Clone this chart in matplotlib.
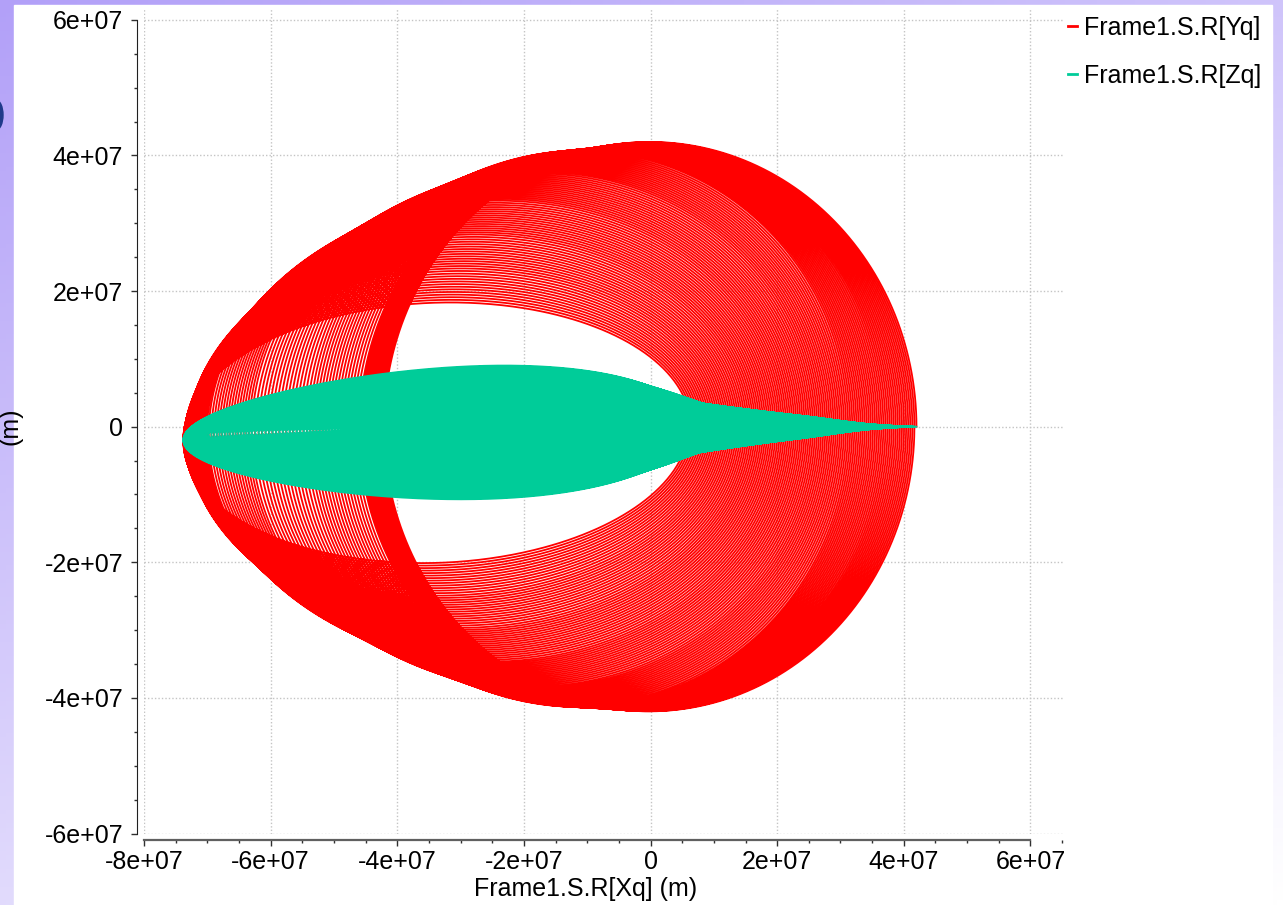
import numpy as np
import matplotlib
matplotlib.use('Agg')
import matplotlib.pyplot as plt
from matplotlib.ticker import MultipleLocator, FuncFormatter
from matplotlib.patches import Rectangle, Ellipse
from matplotlib.lines import Line2D

plt.rcParams['font.family'] = ['Liberation Sans', 'DejaVu Sans']

# loop shape keyframes (metres)
key_frac = [0.0, 0.15, 0.30, 0.45, 0.60, 0.75, 0.88, 1.0]
key_right = [4.20e7, 3.66e7, 3.12e7, 2.58e7, 2.04e7, 1.50e7, 1.03e7, 0.60e7]
key_left = [-4.20e7, -4.60e7, -5.40e7, -6.30e7, -7.00e7, -7.30e7, -7.36e7, -7.38e7]
key_half_y = [4.20e7, 4.15e7, 4.10e7, 3.80e7, 3.40e7, 2.90e7, 2.40e7, 1.90e7]
key_half_z = [0.0, 0.10e7, 0.25e7, 0.35e7, 0.45e7, 0.55e7, 0.80e7, 0.97e7]
tip_drop = -0.2e7
z_skew = 0.2
n_revs = 110

series_names = ['Frame1.S.R[Yq]', 'Frame1.S.R[Zq]']
series_colors = ['#ff0000', '#00cc99']
x_ticks = [-8e7, -6e7, -4e7, -2e7, 0, 2e7, 4e7, 6e7]
y_ticks = [-6e7, -4e7, -2e7, 0, 2e7, 4e7, 6e7]


def build_track():
    t = np.linspace(0, n_revs, n_revs * 700)
    s = t / n_revs
    xr = np.interp(s, key_frac, key_right)
    xl = np.interp(s, key_frac, key_left)
    by = np.interp(s, key_frac, key_half_y)
    bz = np.interp(s, key_frac, key_half_z)
    E = 2 * np.pi * t
    xc = (xr + xl) / 2
    A = (xr - xl) / 2
    x = xc + A * np.cos(E)
    drop = tip_drop * s * (1 - np.cos(E)) / 2
    y = by * np.sin(E) + drop
    z = bz * np.sin(E) * (1 + z_skew * np.cos(E)) + drop
    return x, y, z


W, H = 1283, 905
fig = plt.figure(figsize=(W / 100, H / 100), dpi=100)

# slide background (lavender gradient) and white panel
bg = fig.add_axes([0, 0, 1, 1], zorder=-10)
yy, xx = np.mgrid[0:1:200j, 0:1:200j]
tt = np.clip(0.62 * yy + 0.38 * xx, 0, 1)[..., None]
purple = np.array([178, 160, 248]) / 255
bg.imshow(purple * (1 - tt) + tt, extent=[0, 1, 0, 1], aspect='auto', origin='upper')
bg.add_patch(Rectangle((14 / W, 0), (1272 - 14) / W, (H - 5) / H, color='white'))
bg.add_patch(Ellipse((-4 / W, 1 - 115 / H), 14 / W, 30 / H, color='#1f3a8a'))
bg.set_xlim(0, 1)
bg.set_ylim(0, 1)
bg.axis('off')

ax_l, ax_r, ax_t, ax_b = 144, 1064, 9, 833.5
ax = fig.add_axes([ax_l / W, (H - ax_b) / H, (ax_r - ax_l) / W, (ax_b - ax_t) / H])
ax.set_facecolor('none')

x, y, z = build_track()
ax.plot(x, y, color=series_colors[0], lw=1.3)
ax.plot(x, z, color=series_colors[1], lw=1.3)

ax.set_xlim(-8e7, 6.53e7)
ax.set_ylim(-6e7, 6.16e7)
ax.set_xticks(x_ticks)
ax.set_yticks(y_ticks)
ax.xaxis.set_minor_locator(MultipleLocator(5e6))
ax.yaxis.set_minor_locator(MultipleLocator(5e6))
fmt = FuncFormatter(lambda v, p: '0' if v == 0 else f'{v:.0e}')
ax.xaxis.set_major_formatter(fmt)
ax.yaxis.set_major_formatter(fmt)
ax.grid(True, which='major', color='#c4c4c4', lw=1.0, ls=(0, (1, 1.5)))
ax.set_axisbelow(True)

for side in ['top', 'right']:
    ax.spines[side].set_visible(False)
ax.spines['left'].set_position(('outward', 5))
ax.spines['bottom'].set_position(('outward', 5))
ax.spines['left'].set_bounds(-6e7, 6e7)
ax.spines['bottom'].set_bounds(-8e7, 6e7)
ax.spines['left'].set_color('#202020')
ax.spines['bottom'].set_color('#606060')
ax.spines['bottom'].set_linewidth(1.6)
ax.tick_params(which='major', length=4.5, width=1, color='#303030', labelsize=18)
ax.tick_params(which='minor', length=2.5, width=1, color='#303030')
ax.tick_params(axis='y', which='major', pad=5.5)
ax.tick_params(axis='x', which='major', pad=2.5)

fig.text(586 / W, 1 - 889 / H, 'Frame1.S.R[Xq] (m)', fontsize=18, ha='center', va='center')
fig.text(11 / W, 1 - 426.5 / H, '(m)', fontsize=18, rotation=90, ha='center', va='center')

handles = [Line2D([], [], color=c, lw=2) for c in series_colors]
fig.legend(handles, series_names, loc='upper left', bbox_to_anchor=(1063 / W, 1 - 11 / H),
           frameon=False, fontsize=18, handlelength=0.35, handletextpad=0.3,
           labelspacing=0.95, borderaxespad=0, borderpad=0.2)

fig.savefig('out.png', dpi=100)
